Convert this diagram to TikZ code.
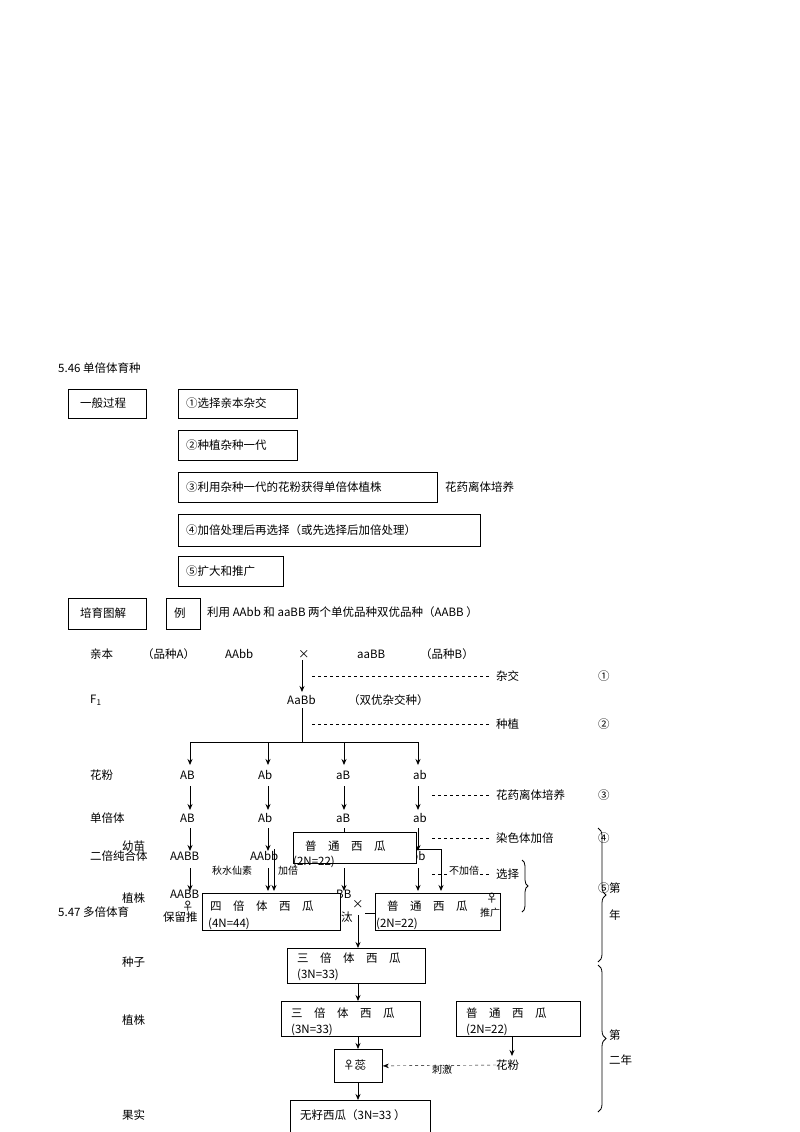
\documentclass[tikz,border=0pt]{standalone}
\usepackage{fontspec}
\setmainfont{Noto Sans CJK SC}
\usetikzlibrary{arrows.meta,decorations.pathreplacing}
\begin{document}
\begin{tikzpicture}[x=1pt,y=-1pt,
  t/.style={anchor=west,inner sep=0pt,font=\fontsize{11.5}{13}\selectfont},
  bx/.style={draw,thick,anchor=north west,inner sep=0pt},
  ar/.style={-{Stealth[length=6pt,width=5pt]},thick},
  dl/.style={dashed,thin}]
\useasboundingbox (0,0) rectangle (800,1132);
\node[t] (h1) at (58,368) {5.46 单倍体育种};
\node[bx,minimum width=78pt,minimum height=29pt] (g) at (68,389) {};
\node[t] at (80,403) {一般过程};
\node[bx,minimum width=119pt,minimum height=29pt] (s1) at (178,389) {};
\node[t] at (186,403) {①选择亲本杂交};
\node[bx,minimum width=119pt,minimum height=30pt] (s2) at (178,430) {};
\node[t] at (186,445) {②种植杂种一代};
\node[bx,minimum width=259pt,minimum height=30pt] (s3) at (178,472) {};
\node[t] at (186,487) {③利用杂种一代的花粉获得单倍体植株};
\node[t] at (445,487) {花药离体培养};
\node[bx,minimum width=302pt,minimum height=32pt] (s4) at (178,514) {};
\node[t] at (186,530) {④加倍处理后再选择（或先选择后加倍处理）};
\node[bx,minimum width=105pt,minimum height=30pt] (s5) at (178,556) {};
\node[t] at (186,571) {⑤扩大和推广};
\node[bx,minimum width=78pt,minimum height=31pt] (pb) at (68,598) {};
\node[t] at (80,613) {培育图解};
\node[bx,minimum width=34pt,minimum height=31pt] (li) at (166,598) {};
\node[t] at (174,613) {例};
\node[t] at (207,612) {利用 AAbb 和 aaBB 两个单优品种双优品种（AABB ）};
% parents
\node[t] at (90,654) {亲本}; \node[t] at (142,654) {（品种A）};
\node[t] at (225,654) {AAbb}; \node[t] (x1) at (298,654) {×};
\node[t] at (357,654) {aaBB}; \node[t] at (420,654) {（品种B）};
\coordinate (x1a) at (302,660); \coordinate (x1b) at (302,692);
\draw[ar] (x1a) -- (x1b);
\coordinate (d1a) at (312,676); \coordinate (d1b) at (490,676);
\draw[dl] (d1a) -- (d1b);
\node[t] at (496,676) {杂交}; \node[t] at (598,676) {①};
\node[t] at (90,700) {F\textsubscript{1}};
\node[t] at (287,700) {AaBb}; \node[t] at (348,700) {（双优杂交种）};
\coordinate (f1) at (302,708); \coordinate (f2) at (302,742);
\draw[thick] (f1) -- (f2);
\coordinate (d2a) at (312,724); \coordinate (d2b) at (490,724);
\draw[dl] (d2a) -- (d2b);
\node[t] at (496,724) {种植}; \node[t] at (598,724) {②};
\coordinate (hl) at (190,742); \coordinate (hr) at (418,742);
\draw[thick] (hl) -- (hr);
\foreach \x in {190,268,344,418}{\draw[ar] (\x,742) -- (\x,765); \draw[ar] (\x,786) -- (\x,810); \draw[ar] (\x,828) -- (\x,851); \draw[ar] (\x,868) -- (\x,891);}
\node[t] at (90,775) {花粉};
\node[t] at (180,775) {AB};\node[t] at (258,775) {Ab};\node[t] at (336,775) {aB};\node[t] at (413,775) {ab};
\draw[dl] (432,795) -- (490,795); \node[t] at (496,795) {花药离体培养}; \node[t] at (598,795) {③};
\node[t] at (90,818) {单倍体};
\node[t] at (180,818) {AB};\node[t] at (258,818) {Ab};\node[t] at (336,818) {aB};\node[t] at (413,818) {ab};
\draw[dl] (432,838) -- (490,838); \node[t] at (496,838) {染色体加倍}; \node[t] at (598,838) {④};
\node[t] at (90,856) {二倍纯合体}; \node[t] at (122,846) {幼苗};
\node[t] at (170,856) {AABB}; \node[t] at (250,856) {AAbb}; \node[t] at (411,856) {bb};
\node[bx,fill=white,minimum width=123pt,minimum height=31pt] (pt1) at (293,832) {};
\node[t] at (305,846) {普\quad 通\quad 西\quad 瓜}; \node[t] at (293,862) {(2N=22)};
\draw[ar] (274,849) -- (274,891);
\draw[ar] (416,849) -- (441,849) -- (441,891);
\node[t,font=\fontsize{10}{12}\selectfont] at (212,871) {秋水仙素};
\node[t,font=\fontsize{10}{12}\selectfont] at (278,871) {加倍};
\draw[dl] (432,874) -- (490,874);
\node[t,fill=white,font=\fontsize{10}{12}\selectfont] at (449,871) {不加倍};
\node[t] at (496,874) {选择};
\draw[decorate,decoration={brace,amplitude=6pt},thick] (522,860) -- (522,912);
\node[t] at (598,888) {⑤};
\node[t] at (170,894) {AABB}; \node[t] at (336,894) {BB};
\node[t] at (182,906) {♀}; \node[t] at (163,917) {保留推};
\node[t] at (122,898) {植株};
\node[t] at (58,912) {5.47 多倍体育};
\node[bx,fill=white,minimum width=138pt,minimum height=37pt] (p4) at (202,893) {};
\node[t] at (210,906) {四\quad 倍\quad 体\quad 西\quad 瓜}; \node[t] at (208,924) {(4N=44)};
\node[t] at (341,917) {汰}; \node[t] at (352,904) {×};
\node[bx,fill=white,minimum width=125pt,minimum height=37pt] (p2) at (375,893) {};
\node[t] at (387,906) {普\quad 通\quad 西\quad 瓜}; \node[t] at (376,924) {(2N=22)};
\node[t,font=\fontsize{10}{12}\selectfont] at (480,913) {推广};
\node[t] at (486,898) {♀};
\draw[thick] (365,913) -- (375,913);
\node[t] at (609,888) {第}; \node[t] at (609,915) {年};
\draw[decorate,decoration={brace,amplitude=8pt},thick] (598,828) -- (598,962);
\draw[decorate,decoration={brace,amplitude=8pt},thick] (598,965) -- (598,1112);
\node[t] at (609,1035) {第}; \node[t] at (609,1060) {二年};
\node[t] at (122,962) {种子};
\node[bx,minimum width=138pt,minimum height=35pt] (t3) at (287,948) {};
\node[t] at (297,958) {三\quad 倍\quad 体\quad 西\quad 瓜}; \node[t] at (297,975) {(3N=33)};
\draw[ar] (358,915) -- (t3.north -| 358,0);
\node[t] at (122,1020) {植株};
\node[bx,minimum width=139pt,minimum height=35pt] (t3b) at (281,1001) {};
\node[t] at (291,1013) {三\quad 倍\quad 体\quad 西\quad 瓜}; \node[t] at (291,1030) {(3N=33)};
\draw[ar] (t3.south -| 358,0) -- (t3b.north -| 358,0);
\node[bx,minimum width=124pt,minimum height=35pt] (pt3) at (456,1001) {};
\node[t] at (466,1013) {普\quad 通\quad 西\quad 瓜}; \node[t] at (466,1030) {(2N=22)};
\node[bx,minimum width=48pt,minimum height=33pt] (ci) at (334,1049) {};
\node[t] at (343,1065) {♀蕊};
\draw[ar] (t3b.south -| 358,0) -- (ci.north -| 358,0);
\node[t] (hf) at (496,1065) {花粉};
\draw[ar] (pt3.south -| 512,0) -- (512,1056);
\draw[dashed,-{Stealth[length=6pt]}] (hf.west) -- (ci.east);
\node[t,font=\fontsize{10}{12}\selectfont] at (432,1070) {刺激};
\node[bx,minimum width=140pt,minimum height=32pt] (wz) at (290,1100) {};
\node[t] at (300,1115) {无籽西瓜（3N=33 ）};
\draw[ar] (ci.south -| 358,0) -- (wz.north -| 358,0);
\node[t] at (122,1115) {果实};
\end{tikzpicture}
\end{document}
